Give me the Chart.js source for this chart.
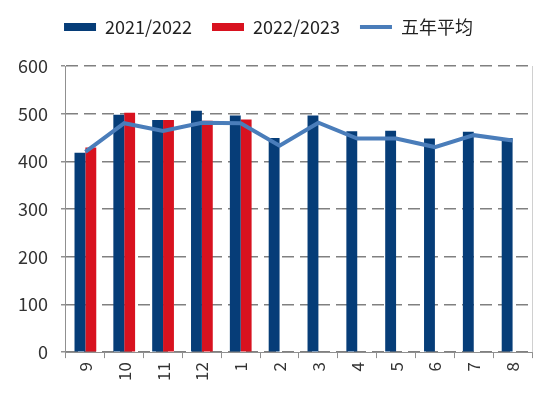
<!DOCTYPE html>
<html>
<head>
<meta charset="utf-8">
<script src="https://cdn.jsdelivr.net/npm/chart.js@4"></script>
<style>
  html, body { margin: 0; padding: 0; background: #fff; }
  #wrap { width: 550px; height: 398px; }
</style>
</head>
<body>
<div id="wrap"><canvas id="chart"></canvas></div>
<script>
// Months of the season, Sept to Aug
const months = ['9', '10', '11', '12', '1', '2', '3', '4', '5', '6', '7', '8'];

const season2122 = [418, 498, 487, 506, 496, 449, 496, 463, 464, 448, 462, 449];
const season2223 = [429, 502, 487, 485, 488, null, null, null, null, null, null, null];
const fiveYearAvg = [420, 480, 464, 481, 480, 433, 481, 448, 448, 430, 455, 444];

const yTicks = [0, 100, 200, 300, 400, 500, 600];

const fontFamily = "'Noto Sans CJK SC', 'Noto Sans', sans-serif";

// right-hand frame line of the plot area
const rightBorder = {
  id: 'rightBorder',
  afterDraw(chart) {
    const { ctx, chartArea } = chart;
    ctx.save();
    ctx.strokeStyle = '#d0d0d0';
    ctx.lineWidth = 1;
    ctx.beginPath();
    ctx.moveTo(chartArea.right + 0.5, chartArea.top);
    ctx.lineTo(chartArea.right + 0.5, chartArea.bottom);
    ctx.stroke();
    ctx.restore();
  }
};

// extra room under the legend
const legendGap = {
  id: 'legendGap',
  beforeInit(chart) {
    const fit = chart.legend.fit;
    chart.legend.fit = function () {
      fit.bind(chart.legend)();
      this.height += 20;
    };
  }
};

const ctx = document.getElementById('chart').getContext('2d');
const chart = new Chart(ctx, {
  type: 'bar',
  data: {
    labels: months,
    datasets: [
      {
        type: 'line',
        label: '五年平均',
        data: fiveYearAvg,
        borderColor: '#4a7dba',
        backgroundColor: '#4a7dba',
        borderWidth: 4,
        pointRadius: 0,
        pointStyle: 'line',
        tension: 0,
        order: 0
      },
      {
        label: '2021/2022',
        data: season2122,
        backgroundColor: '#063d78',
        pointStyle: 'rect',
        order: 1
      },
      {
        label: '2022/2023',
        data: season2223,
        backgroundColor: '#d8121f',
        pointStyle: 'rect',
        order: 1
      }
    ]
  },
  options: {
    responsive: true,
    maintainAspectRatio: false,
    animation: false,
    layout: {
      padding: { left: 5, right: 18, top: -2, bottom: 13 }
    },
    datasets: {
      bar: {
        barPercentage: 1,
        categoryPercentage: 0.56
      }
    },
    plugins: {
      tooltip: { enabled: false },
      legend: {
        position: 'top',
        align: 'center',
        labels: {
          usePointStyle: true,
          pointStyleWidth: 32,
          boxHeight: 8,
          padding: 20,
          color: '#222',
          font: { family: fontFamily, size: 18 },
          sort: (a, b) => {
            const rank = { '2021/2022': 0, '2022/2023': 1, '五年平均': 2 };
            return rank[a.text] - rank[b.text];
          }
        }
      }
    },
    scales: {
      x: {
        grid: {
          offset: true,
          drawOnChartArea: false,
          tickLength: 6,
          color: '#909090'
        },
        border: { color: '#909090', width: 1 },
        ticks: {
          minRotation: 90,
          maxRotation: 90,
          color: '#333',
          padding: 4,
          font: { family: fontFamily, size: 17 }
        }
      },
      y: {
        min: 0,
        max: 600,
        afterBuildTicks: (axis) => {
          axis.ticks = yTicks.map(v => ({ value: v }));
        },
        grid: {
          color: '#808080',
          lineWidth: 1.5,
          tickLength: 5,
          tickColor: '#909090',
          tickBorderDash: []
        },
        border: { color: '#909090', width: 1, dash: [12, 6] },
        ticks: {
          color: '#333',
          padding: 13,
          font: { family: fontFamily, size: 18 }
        }
      }
    }
  },
  plugins: [rightBorder, legendGap]
});
</script>
</body>
</html>
